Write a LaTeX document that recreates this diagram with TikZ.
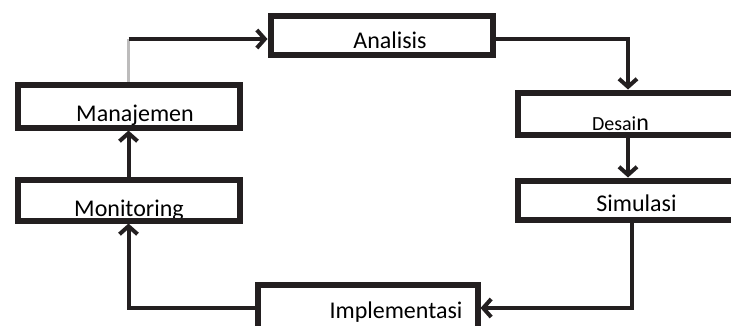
\documentclass[tikz,border=0pt]{standalone}
\usepackage{fontspec}
\setmainfont{Carlito}
\usepackage[dvipsnames]{xcolor}
\usepackage{tikz}
\usetikzlibrary{arrows.meta}

\tikzset{
  stepbox/.style={draw=Black, line width=6pt, fill=White, inner sep=0pt},
  flow/.style={draw=Black, line width=4pt, -{Straight Barb[length=8pt,width=18pt]}},
  boxtext/.style n args={3}{path picture={
      \node[font=\fontsize{24}{28}\selectfont, inner sep=0pt]
        at ([shift={(#1,#2)}]path picture bounding box.center) {#3};}}
}

\begin{document}
\begin{tikzpicture}[x=1pt, y=-1pt]
  \useasboundingbox (0,0) rectangle (731,325);
  \clip (0,0) rectangle (731,325);

  \node[stepbox, minimum width=222pt, minimum height=39pt, boxtext={8.5}{5.5}{Analisis}] (ana) at (381.5,35) {};
  \node[stepbox, minimum width=222pt, minimum height=43pt, boxtext={6.5}{9.5}{Manajemen}] (man) at (128.5,106) {};
  \node[stepbox, minimum width=222pt, minimum height=41pt, boxtext={0.5}{10.75}{Monitoring}] (mon) at (128.5,200) {};
  \node[stepbox, minimum width=300pt, minimum height=42pt, boxtext={-47}{10}{{\fontsize{20}{22}\selectfont Desai}n}] (des) at (667.5,113.5) {};
  \node[stepbox, minimum width=300pt, minimum height=39pt, boxtext={-31}{3}{Simulasi}] (sim) at (667.5,200) {};
  \node[stepbox, minimum width=220pt, minimum height=46pt, boxtext={28.5}{4.5}{Implementasi}] (imp) at (367.5,308) {};

  \coordinate (rail) at (628,0);
  \coordinate (bend) at (128.5,39);

  \draw[Gray!60, line width=3pt] (man.north) -- (bend);
  \draw[flow] (bend) -- (bend -| ana.west);
  \draw[flow] (ana.east |- bend) -| (rail |- des.north);
  \draw[flow] (rail |- des.south) -- (rail |- sim.north);
  \draw[flow] ([xshift=4pt]rail |- sim.south) |- (imp.east);
  \draw[flow] (imp.west) -| (mon.south);
  \draw[flow] (mon.north) -- (man.south);
\end{tikzpicture}
\end{document}
